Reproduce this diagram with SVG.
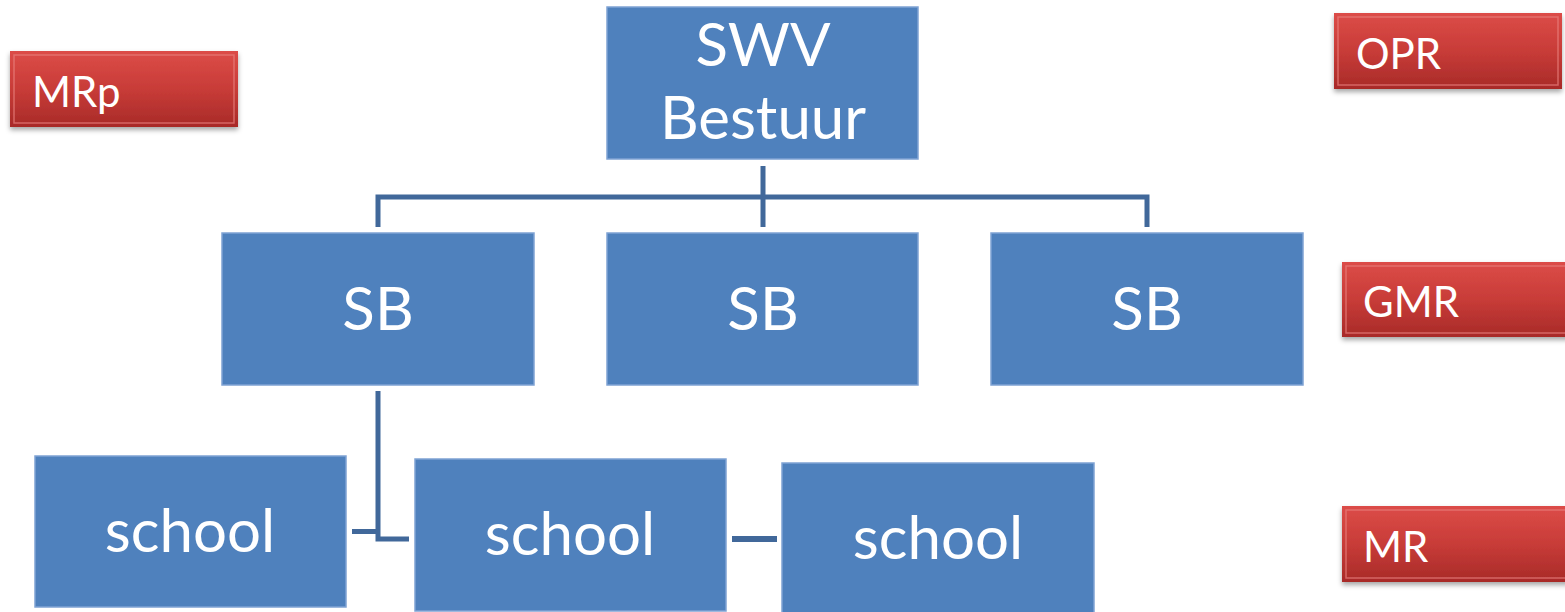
<svg xmlns="http://www.w3.org/2000/svg" width="1565" height="612" viewBox="0 0 1565 612">
<defs>
<linearGradient id="red" x1="0" y1="0" x2="0" y2="1">
<stop offset="0" stop-color="#dc4c48"/>
<stop offset="0.5" stop-color="#c83c38"/>
<stop offset="1" stop-color="#a82a28"/>
</linearGradient>
<filter id="sh" x="-10%" y="-20%" width="120%" height="150%">
<feDropShadow dx="0" dy="3" stdDeviation="2.5" flood-color="#000" flood-opacity="0.35"/>
</filter>
</defs>
<style>
.blue{fill:#4f81bd;stroke:#7fa3d4;stroke-width:1.5}
.bt{fill:#fff;font-family:Lato,"Open Sans","Liberation Sans",sans-serif;font-size:60px;text-anchor:middle}
.red{fill:url(#red);filter:url(#sh)}
.bev{fill:none;stroke:#e8807c;stroke-width:1.5;opacity:0.7}
.rt{fill:#fff;font-family:Lato,"Open Sans","Liberation Sans",sans-serif;font-size:42px}
.con{stroke:#41689a;fill:none;stroke-width:5}
</style>
<g id="connectors">
<path class="con" d="M763,166 V227 M378,227 V197 H1147 V227"/>
<path class="con" d="M378,391 V539 H409" stroke-width="6"/>
<rect x="352" y="529" width="27" height="5" fill="#41689a"/>
<rect x="732" y="536" width="45" height="6" fill="#41689a"/>
</g>
<g id="swv"><rect class="blue" x="607" y="7" width="311" height="152"/><text class="bt" x="763" y="66">SWV</text><text class="bt" x="763" y="139">Bestuur</text></g>
<g id="sb1"><rect class="blue" x="222" y="233" width="312" height="152"/><text class="bt" x="378" y="330">SB</text></g>
<g id="sb2"><rect class="blue" x="607" y="233" width="311" height="152"/><text class="bt" x="763" y="330">SB</text></g>
<g id="sb3"><rect class="blue" x="991" y="233" width="312" height="152"/><text class="bt" x="1147" y="330">SB</text></g>
<g id="school1"><rect class="blue" x="35" y="456" width="311" height="151"/><text class="bt" x="190" y="552">school</text></g>
<g id="school2"><rect class="blue" x="415" y="459" width="311" height="152"/><text class="bt" x="570" y="555">school</text></g>
<g id="school3"><rect class="blue" x="782" y="463" width="312" height="152"/><text class="bt" x="938" y="559">school</text></g>
<g id="mrp"><rect class="red" x="10" y="51" width="228" height="76"/><rect class="bev" x="14" y="55" width="220" height="68"/><text class="rt" x="32" y="107">MRp</text></g>
<g id="opr"><rect class="red" x="1334" y="13" width="228" height="76"/><rect class="bev" x="1338" y="17" width="220" height="68"/><text class="rt" x="1356" y="69">OPR</text></g>
<g id="gmr"><rect class="red" x="1342" y="262" width="228" height="75"/><rect class="bev" x="1346" y="266" width="220" height="67"/><text class="rt" x="1363" y="317">GMR</text></g>
<g id="mr"><rect class="red" x="1342" y="506" width="228" height="76"/><rect class="bev" x="1346" y="510" width="220" height="68"/><text class="rt" x="1363" y="562">MR</text></g>
</svg>
